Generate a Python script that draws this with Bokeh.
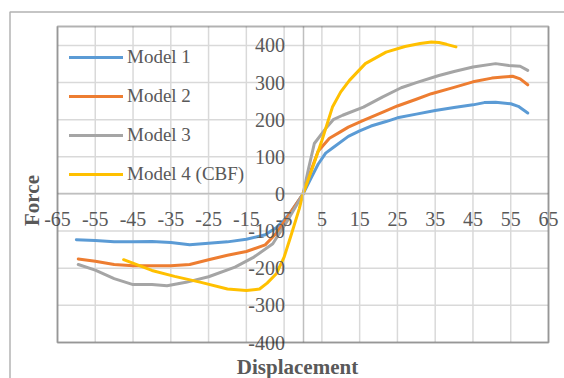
from math import pi
from bokeh.plotting import figure
from bokeh.models import Range1d, FixedTicker, Label, BoxAnnotation, Legend, LegendItem
from bokeh.embed import file_html
from bokeh.resources import INLINE

# ---- data ----
x_ticks = [-65, -55, -45, -35, -25, -15, -5, 5, 15, 25, 35, 45, 55, 65]
y_ticks = [-400, -300, -200, -100, 0, 100, 200, 300, 400]
X_MIN, X_MAX = -65, 65          # plot-area limits of the x axis
Y_MIN, Y_MAX = -400, 451        # plot-area limits of the y axis

names = ["Model 1", "Model 2", "Model 3", "Model 4 (CBF)"]
colors = ["#5B9BD5", "#ED7D31", "#A5A5A5", "#FFC000"]

x1 = [-60, -55, -50, -45, -40, -35, -30, -25, -20, -15, -10, -7, -5, -3, 0, 2, 4, 6, 8, 12, 15, 18, 22, 25, 30, 35, 40, 45, 48, 51, 55, 57, 59.5]
y1 = [-123, -125, -129, -129, -128, -131, -137, -133, -129, -122, -110, -90, -70, -45, 0, 40, 80, 110, 125, 155, 170, 183, 195, 205, 215, 225, 233, 240, 246, 247, 243, 236, 218]

x2 = [-59.5, -55, -50, -45, -40, -35, -30, -25, -20, -15, -10, -7, -4, 0, 2, 4, 7, 10, 12, 16, 21, 25, 30, 34, 40, 45, 50, 53, 55.5, 57.5, 59.5]
y2 = [-175, -181, -190, -193, -193, -193, -190, -177, -165, -155, -137, -105, -60, 0, 60, 115, 150, 168, 180, 198, 220, 237, 255, 270, 287, 302, 312, 315, 317, 310, 294]

x3 = [-59.5, -55, -50, -45, -40, -36, -31, -25, -18, -13, -8, -4, 0, 1.5, 3, 6, 8, 10.5, 16, 21, 26, 30, 36, 40, 45, 51, 54.5, 57.5, 59.5]
y3 = [-190, -205, -228, -244, -244, -247, -238, -223, -197, -170, -134, -70, 0, 70, 136, 176, 200, 212, 234, 261, 286, 300, 319, 330, 342, 351, 346, 344, 333]

x4 = [-47.5, -40, -34, -27, -20, -15, -11.5, -9.5, -7, -5, -3.3, -1, 0, 2.5, 5, 7.8, 10, 12.3, 16.5, 22, 27, 31, 34, 36, 38, 40.5]
y4 = [-177, -206, -222, -238, -256, -260, -256, -240, -214, -170, -116, -40, 0, 70, 144, 234, 275, 306, 351, 382, 397, 405, 409, 408, 403, 396]

series_x = [x1, x2, x3, x4]
series_y = [y1, y2, y3, y4]

FONT = "Liberation Serif"
TXT = "#595959"

# ---- layout: the frame covers the whole canvas; plot area is at px 57..548 x 26..342 ----
W, H = 564, 378
PA_L, PA_R, PA_T, PA_B = 57, 548, 26, 342
sx = (PA_R - PA_L) / (X_MAX - X_MIN)
sy = (PA_B - PA_T) / (Y_MAX - Y_MIN)
xr = Range1d(X_MIN - PA_L / sx, X_MAX + (W - PA_R) / sx)
yr = Range1d(Y_MIN - (H - PA_B) / sy, Y_MAX + PA_T / sy)

p = figure(width=W, height=H, output_backend="svg", toolbar_location=None,
           x_range=xr, y_range=yr, min_border=0,
           min_border_left=0, min_border_right=0, min_border_top=0, min_border_bottom=0)
p.background_fill_color = "white"
p.border_fill_color = "white"
p.outline_line_color = None
p.grid.visible = False

# gridlines (limited to the plot area)
p.segment(x0=x_ticks, y0=[Y_MIN] * len(x_ticks), x1=x_ticks, y1=[Y_MAX] * len(x_ticks),
          line_color="#D9D9D9", line_width=1.5)
p.segment(x0=[X_MIN] * len(y_ticks), y0=y_ticks, x1=[X_MAX] * len(y_ticks), y1=y_ticks,
          line_color="#D9D9D9", line_width=1.5)

for ax, ticks in ((p.xaxis, x_ticks), (p.yaxis, y_ticks)):
    ax.fixed_location = 0
    ax.ticker = FixedTicker(ticks=ticks)
    ax.major_label_overrides = {t: str(t) for t in ticks}
    ax.major_tick_in = 0
    ax.major_tick_out = 0
    ax.minor_tick_in = 0
    ax.minor_tick_out = 0
    ax.axis_line_color = "#BFBFBF"
    ax.axis_line_width = 1.5
    ax.major_label_text_font = FONT
    ax.major_label_text_font_size = "20px"
    ax.major_label_text_color = TXT
p.xaxis.bounds = (X_MIN, X_MAX)
p.yaxis.bounds = (Y_MIN, Y_MAX)
p.xaxis.major_label_standoff = 18
p.yaxis.major_label_standoff = 18

items = []
for xs, ys, c, n in zip(series_x, series_y, colors, names):
    r = p.line(xs, ys, line_color=c, line_width=3, line_join="round", line_cap="round")
    items.append(LegendItem(label=n, renderers=[r]))

# plot-area border
p.add_layout(BoxAnnotation(left=X_MIN, right=X_MAX, bottom=Y_MIN, top=Y_MAX,
                           fill_alpha=0, line_color="black", line_width=2))

legend = Legend(items=items, location=(PA_L + 12, H - PA_T - 12 - 4 * 39 + 1),
                glyph_width=54, glyph_height=38,
                label_height=38, spacing=1, margin=0, padding=0, label_standoff=4,
                background_fill_alpha=0, border_line_alpha=0,
                label_text_font=FONT, label_text_font_size="19px", label_text_color=TXT)
p.add_layout(legend)

p.add_layout(Label(x=297, y=H - 366, x_units="screen", y_units="screen", text="Displacement",
                   text_font=FONT, text_font_size="21px", text_font_style="bold",
                   text_color=TXT, text_align="center", text_baseline="middle"))
p.add_layout(Label(x=31, y=H - 200, x_units="screen", y_units="screen", text="Force", angle=pi / 2,
                   text_font=FONT, text_font_size="21px", text_font_style="bold",
                   text_color=TXT, text_align="center", text_baseline="middle"))

# outer chart border (left and top edges visible in the window)
p.add_layout(BoxAnnotation(left=9.5, right=W + 50, top=H - 11.5, bottom=-50,
                           left_units="screen", right_units="screen",
                           top_units="screen", bottom_units="screen",
                           fill_alpha=0, line_color="black", line_width=1.5))

open("out.html", "w").write(file_html(p, INLINE))
